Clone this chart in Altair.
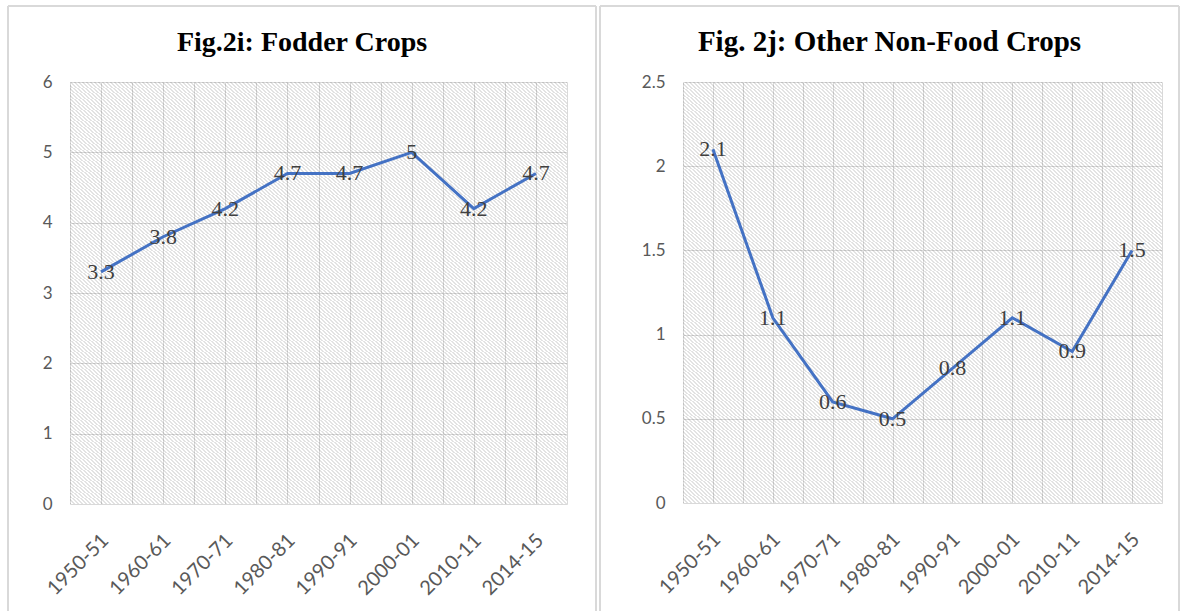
import altair as alt
import pandas as pd

periods = ["1950-51", "1960-61", "1970-71", "1980-81", "1990-91", "2000-01", "2010-11", "2014-15"]
fodder = [3.3, 3.8, 4.2, 4.7, 4.7, 5.0, 4.2, 4.7]
nonfood = [2.1, 1.1, 0.6, 0.5, 0.8, 1.1, 0.9, 1.5]
fodder_ticks = [0, 1, 2, 3, 4, 5, 6]
nonfood_ticks = [0, 0.5, 1, 1.5, 2, 2.5]
titles = ["Fig.2i: Fodder Crops", "Fig. 2j: Other Non-Food Crops"]

LINE = "#4472C4"
GRID = "#d9d9d9"
LABEL = "#595959"
FRAME = "#d9d9d9"
AXFONT = "Lato"


def hatch(width_px, period=4.0, alpha=0.11):
    dt = period / (2.0 * width_px)
    on = f"rgba(0,0,0,{alpha})"
    off = "rgba(0,0,0,0)"
    stops = []
    k = 0
    while k * dt < 1:
        a = k * dt
        b = min(a + dt / 2, 1.0)
        c = min(a + dt, 1.0)
        stops += [{"offset": a, "color": on}, {"offset": b, "color": on},
                  {"offset": b, "color": off}, {"offset": c, "color": off}]
        k += 1
    return {"gradient": "linear", "x1": 0, "y1": 1, "x2": 1, "y2": 0, "stops": stops}


def panel(values, yticks, title, w, h, frame, title_size):
    n = len(periods)
    df = pd.DataFrame({"idx": list(range(n)), "period": periods, "value": values})
    ymax = yticks[-1]
    xdom = [-0.5, n - 0.5]
    xvals = [i / 2 - 0.5 for i in range(2 * n + 1)]
    label_js = "[" + ",".join(f"'{p}'" for p in periods) + "]"
    x_axis = alt.Axis(
        values=xvals, grid=True, gridColor=GRID, gridWidth=1, ticks=False, domain=False,
        labelExpr=f"datum.value % 1 == 0 ? {label_js}[datum.value] : ''",
        labelAngle=-45, labelAlign="right", labelBaseline="middle", labelPadding=33,
        labelOffset=4,
        labelFont=AXFONT, labelFontSize=20, labelColor=LABEL,
        labelOverlap=False, labelFlush=False, labelBound=False, title=None,
    )
    y_axis = alt.Axis(
        values=yticks, format="~g", grid=True, gridColor=GRID, gridWidth=1, ticks=False,
        domain=False, labelPadding=18, labelFont=AXFONT, labelFontSize=17,
        labelColor=LABEL, title=None,
    )
    xs = alt.Scale(domain=xdom, nice=False, zero=False)
    ys = alt.Scale(domain=[0, ymax], nice=False)

    bg_df = pd.DataFrame({"x0": [xdom[0]], "x1": [xdom[1]], "y0": [0], "y1": [ymax]})
    bg = alt.Chart(bg_df).mark_rect(fill=hatch(w)).encode(
        x=alt.X("x0:Q", scale=xs, axis=x_axis),
        x2="x1:Q",
        y=alt.Y("y0:Q", scale=ys, axis=y_axis),
        y2="y1:Q",
    )
    base = alt.Chart(df).encode(
        x=alt.X("idx:Q", scale=xs, axis=x_axis),
        y=alt.Y("value:Q", scale=ys, axis=y_axis),
    )
    line = base.mark_line(color=LINE, strokeWidth=3)
    text = base.mark_text(font="Liberation Serif", fontSize=22, color="#404040",
                          align="center", baseline="middle").encode(text=alt.Text("value:Q", format="~g"))

    # panel frame (left, top, right edges; bottom edge is off the picture)
    fx0, fx1, fy0, fy1 = frame
    one = alt.Data(values=[{}])
    frame_style = dict(color=FRAME, strokeWidth=2)
    f_left = alt.Chart(one).mark_rule(**frame_style).encode(
        x=alt.value(fx0), y=alt.value(fy0), y2=alt.value(fy1))
    f_right = alt.Chart(one).mark_rule(**frame_style).encode(
        x=alt.value(fx1), y=alt.value(fy0), y2=alt.value(fy1))
    f_top = alt.Chart(one).mark_rule(**frame_style).encode(
        x=alt.value(fx0), x2=alt.value(fx1), y=alt.value(fy0))

    return alt.layer(bg, line, text, f_left, f_right, f_top).properties(
        width=w, height=h,
        title=alt.TitleParams(text=title, font="Liberation Serif", fontSize=title_size,
                              fontWeight="bold", color="black", anchor="middle",
                              frame="bounds", offset=-52),
    )


left = panel(fodder, fodder_ticks, titles[0], 497, 422, (-62, 526, -76, 529), 28)
right = panel(nonfood, nonfood_ticks, titles[1], 479, 421, (-83, 496, -76, 529), 29)

chart = alt.hconcat(left, right, spacing=2).properties(
    padding={"left": 7, "top": 5, "right": 0, "bottom": 0}
).configure_view(stroke=None)

chart.save("out.html", embed_options={"renderer": "svg", "actions": False})
